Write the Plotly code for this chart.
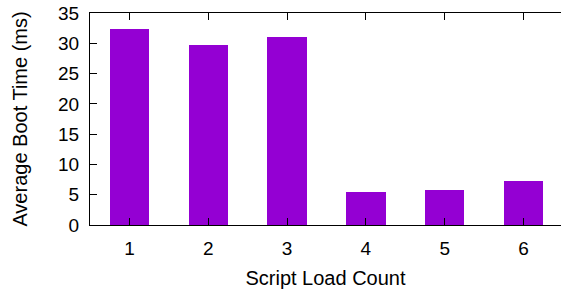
import plotly.graph_objects as go

categories = [1, 2, 3, 4, 5, 6]
boot_time_ms = [32.4, 29.8, 31.0, 5.45, 5.7, 7.25]
y_ticks = [0, 5, 10, 15, 20, 25, 30, 35]

fam = "Liberation Sans, Arial, sans-serif"
tick_font = dict(family=fam, size=19, color="black")
title_font = dict(family=fam, size=20, color="black")

fig = go.Figure()
fig.add_trace(go.Bar(
    x=categories, y=boot_time_ms, width=0.5,
    marker=dict(color="#9400D3", line=dict(width=0)),
))

fig.update_layout(
    width=561, height=290,
    margin=dict(l=90, r=0, t=13, b=65, autoexpand=False),
    paper_bgcolor="white", plot_bgcolor="white",
    font=tick_font, showlegend=False, bargap=0,
    xaxis=dict(
        range=[0.5, 6.475], tickvals=categories, ticktext=[str(c) for c in categories],
        ticks="inside", ticklen=7, tickcolor="black", tickwidth=1,
        showline=True, linecolor="black", linewidth=1, mirror="ticks",
        showgrid=False, zeroline=False, automargin=False,
        tickfont=tick_font, ticklabelstandoff=6,
        title=dict(text="Script Load Count", standoff=13, font=title_font),
    ),
    yaxis=dict(
        range=[0, 35], tickvals=y_ticks,
        ticks="inside", ticklen=7, tickcolor="black", tickwidth=1,
        showline=True, linecolor="black", linewidth=1, mirror=False,
        showgrid=False, zeroline=False, automargin=False,
        tickfont=tick_font, ticklabelstandoff=6,
        title=dict(text="Average Boot Time (ms)", standoff=25, font=title_font),
    ),
    yaxis2=dict(
        range=[0, 35], tickvals=y_ticks, overlaying="y", side="right",
        ticks="inside", ticklen=7, tickcolor="black", tickwidth=1,
        showticklabels=False, showline=False, showgrid=False, zeroline=False,
        automargin=False,
    ),
)

fig.write_html("out.html", config={"displayModeBar": False},
               post_script="document.body.style.margin='0';")
